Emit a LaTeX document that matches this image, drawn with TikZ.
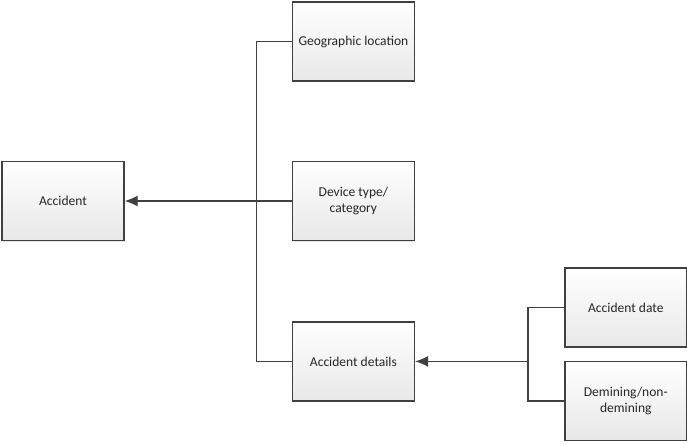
\documentclass[tikz,border=0pt]{standalone}
\usepackage{fontspec}
\setmainfont{Carlito}
\usepackage{tikz}
\usetikzlibrary{arrows.meta,calc}
\usetikzlibrary{shadows}
\usetikzlibrary{positioning}
\definecolor{edgegray}{HTML}{404040}
\tikzstyle{line}=[-, draw=edgegray, line width=0.8pt]
\tikzstyle{arr}=[-{Latex[length=2.6mm,width=2.2mm]}, draw=edgegray, fill=edgegray, line width=0.8pt]
\tikzstyle{box}=[rectangle, draw=edgegray, line width=0.8pt, top color=white,
		bottom color=black!9, text=black!85, minimum width=2.44cm,
		minimum height=1.58cm, align=center, font=\fontsize{7.7}{9.4}\selectfont,
		drop shadow={shadow xshift=0.6pt, shadow yshift=-0.6pt, opacity=0.2}]

\begin{document}
\begin{tikzpicture}[node distance=1.58cm]

    \useasboundingbox (-1.26,-4.84) rectangle (12.48,4.02);

    \node (Acc) [box] at (0,0) {Accident};

    \node (Dev) [box, right=3.34cm of Acc] {Device type/\\category};

    \node (Geo) [box, above=of Dev] {Geographic location};

    \node (Det) [box, below=1.6cm of Dev] {Accident details};

    \node (Date) [box, right=2.98cm of Det, yshift=1.08cm] {Accident date};

    \node (Dem) [box, below=0.26cm of Date] {Demining/non-\\demining};

    % junctions
    \coordinate (J1) at ($(Acc.east)!0.79!(Dev.west)$);
    \coordinate (J2) at ($(Det.east)+(2.26,0)$);

    \draw[line] (Geo.west) -| (J1) |- (Det.west);
    \draw[arr] (Dev.west) -- (Acc.east);

    \draw[line] (Date.west) -| (J2) |- (Dem.west);
    \draw[arr] (J2) -- (Det.east);

\end{tikzpicture}
\end{document}
